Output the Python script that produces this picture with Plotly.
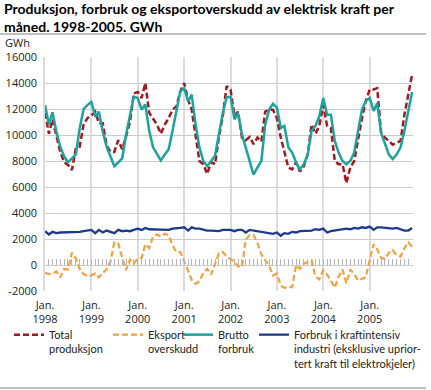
import plotly.graph_objects as go
import pandas as pd

W, H = 431, 390
ML, MR, MT, MB = 45, 18, 57, 99
FONT = "Lato"
TICKFONT = "Open Sans"

months = pd.date_range("1998-01-01", periods=96, freq="MS")
years = list(range(1998, 2006))
x_tick_vals = [f"{y}-01-01" for y in years]
x_tick_text = [f"Jan.<br>{y}" for y in years]
y_tick_vals = list(range(-2000, 16001, 2000))
y_tick_text = [str(v) for v in y_tick_vals]

total_produksjon = [
    11700, 10100, 11200, 9800, 8700, 7900, 7700, 7300, 9000, 9100, 10800, 11300,
    11500, 11800, 10900, 10900, 9200, 8700, 8700, 9600, 8900, 9900, 11000, 13200,
    13300, 12850, 14000, 11700, 11300, 10800, 10100, 10800, 11300, 11950, 12200, 13350,
    14000, 12700, 11950, 9800, 8000, 7750, 7000, 7900, 7750, 9800, 11450, 13750,
    13500, 11450, 11800, 9800, 9600, 9850, 9300, 9800, 9500, 11800, 11950, 11950,
    11300, 9800, 8750, 7500, 7350, 7900, 7200, 7600, 8500, 10800, 10100, 10700,
    12300, 10700, 10550, 8000, 7750, 7750, 6300, 7500, 8000, 9800, 11300, 12600,
    13500, 13500, 13600, 10150, 9800, 9550, 9250, 9400, 9550, 11550, 13250, 14650,
]
eksportoverskudd = [
    -600, -700, -650, -500, -950, -300, -350, 950, 500, -300, -700, -850,
    -800, -650, -950, -600, -350, 300, 1750, 1650, 550, -400, 400, 100,
    500, 550, 1600, 1300, 2200, 2350, 2200, 2400, 2300, 1500, 1000, 1000,
    300, -500, -1150, -1450, -1250, -600, -300, -750, 50, 900, 1000, 650,
    450, 250, -100, -150, 1950, 2300, 2300, 1700, 800, 400, -50, -800,
    -650, -1600, -1750, -1700, -1700, 0, -300, 100, 250, 350, -900, -1100,
    -400, -750, -1200, -1750, -900, -350, -1400, -350, -700, -1200, -1050, -950,
    400, 1600, 1200, 550, 450, 950, 1150, 750, 650, 1300, 1750, 1400,
]
brutto_forbruk = [
    12300, 10800, 11750, 10250, 9100, 8350, 7900, 8200, 8500, 10500, 12000, 12300,
    12550, 11400, 11800, 10250, 9100, 8350, 7600, 7900, 8200, 10000, 11650, 12950,
    12850, 11950, 12350, 10300, 9050, 8500, 8050, 8500, 8900, 10300, 11850, 13350,
    13600, 12600, 13100, 10800, 9050, 8000, 7600, 8000, 8400, 10050, 11700, 12900,
    12950, 11200, 11700, 10050, 9050, 8000, 6950, 7500, 8000, 10800, 11950, 12400,
    12100, 10550, 10700, 9050, 8650, 7900, 7350, 7750, 8500, 10300, 10700, 11450,
    12850, 11550, 11550, 9550, 8650, 8000, 7750, 8000, 8650, 10300, 11950, 12600,
    12850, 11850, 12450, 10150, 9300, 8500, 8150, 8500, 9050, 10300, 11850, 13300,
]
kraftintensiv = [
    2600, 2350, 2550, 2450, 2500, 2500, 2500, 2500, 2550, 2550, 2600, 2650,
    2700, 2450, 2700, 2500, 2650, 2550, 2450, 2700, 2600, 2650, 2600, 2700,
    2800, 2700, 2850, 2750, 2750, 2700, 2700, 2750, 2700, 2800, 2800, 2850,
    2900, 2650, 2900, 2800, 2800, 2700, 2650, 2650, 2650, 2600, 2700, 2700,
    2700, 2600, 2700, 2700, 2500, 2700, 2650, 2600, 2500, 2450, 2450, 2400,
    2500, 2250, 2450, 2400, 2550, 2500, 2600, 2600, 2650, 2650, 2750, 2700,
    2800, 2500, 2600, 2650, 2700, 2700, 2800, 2750, 2850, 2800, 2900, 2850,
    2950, 2700, 2900, 2900, 2850, 2850, 2800, 2850, 2750, 2650, 2650, 2850,
]

series_names = [
    "Total<br>produksjon",
    "Eksport-<br>overskudd",
    "Brutto<br>forbruk",
    "Forbruk i kraftintensiv<br>industri (eksklusive uprior-<br>tert kraft til elektrokjeler)",
]
series_values = [total_produksjon, eksportoverskudd, brutto_forbruk, kraftintensiv]
series_colors = ["#a3191f", "#f5a13f", "#1ca39e", "#1d3a91"]
series_dash = ["6px,3px", "6px,3px", "solid", "solid"]
series_width = [2.5, 2.2, 2.5, 2.3]
series_xaxis = ["x", "x2", "x", "x"]
legend_ids = ["legend", "legend2", "legend3", "legend4"]
legend_text_x = [49, 148, 218, 294]

fig = go.Figure()
for name, vals, col, dash, wd, xa, lg in zip(series_names, series_values, series_colors,
                                              series_dash, series_width, series_xaxis,
                                              legend_ids):
    fig.add_trace(go.Scatter(
        x=months, y=vals, name=name, mode="lines", xaxis=xa, yaxis="y",
        line=dict(color=col, dash=dash, width=wd),
        legend=lg, showlegend=True, hoverinfo="skip",
    ))

pw = W - ML - MR
ph = H - MT - MB


def xp(px):
    return (px - ML) / pw


def yp(py):
    return 1 - (py - MT) / ph


legend_common = dict(
    xref="paper", yref="paper", xanchor="left", yanchor="top",
    valign="top", bgcolor="rgba(0,0,0,0)", borderwidth=0, itemwidth=30,
    font=dict(family=FONT, size=11, color="#222"), visible=True,
)
layout_legends = {}
for lg, tx in zip(legend_ids, legend_text_x):
    layout_legends[lg] = dict(legend_common, x=xp(tx - 40), y=yp(321))

x_range = ["1998-01-01", "2005-12-08"]
y_range = [y_tick_vals[0], y_tick_vals[-1]]

fig.update_layout(
    width=W, height=H,
    margin=dict(l=ML, r=MR, t=MT, b=MB, autoexpand=False),
    paper_bgcolor="white", plot_bgcolor="white",
    showlegend=True,
    font=dict(family=FONT, size=11, color="#222"),
    xaxis=dict(
        type="date", range=x_range,
        tickvals=x_tick_vals, ticktext=x_tick_text,
        showgrid=True, gridcolor="#dcdcdc", gridwidth=1.5,
        ticks="", showline=False, zeroline=False, ticklabelstandoff=6,
        tickfont=dict(family=TICKFONT, size=11, color="#222"),
    ),
    xaxis2=dict(
        type="date", range=x_range, overlaying="x",
        anchor="free", position=(0 - y_range[0]) / (y_range[1] - y_range[0]),
        tickmode="linear", tick0="1998-01-01", dtick="M1",
        ticks="inside", ticklen=6, tickwidth=1, tickcolor="#b4b4b4",
        showticklabels=False, showgrid=False, showline=False, zeroline=False,
    ),
    yaxis=dict(
        range=y_range,
        tickvals=y_tick_vals, ticktext=y_tick_text,
        showgrid=True, gridcolor="#cccccc", gridwidth=1,
        zeroline=False, showline=True, linecolor="#dcdcdc", linewidth=1.5,
        ticks="", ticklabelstandoff=4,
        tickfont=dict(family=TICKFONT, size=11, color="#222"),
    ),
    annotations=[
        dict(
            text="<b>Produksjon, forbruk og eksportoverskudd av elektrisk kraft per<br>måned. 1998-2005. GWh</b>",
            x=xp(2), y=yp(-2), xref="paper", yref="paper",
            xanchor="left", yanchor="top", align="left", showarrow=False,
            font=dict(family=FONT, size=14, color="#000"),
        ),
        dict(
            text="GWh", x=xp(3), y=yp(42), xref="paper", yref="paper",
            xanchor="left", yanchor="middle", showarrow=False,
            font=dict(family=TICKFONT, size=11, color="#222"),
        ),
    ],
    shapes=[
        dict(type="line", xref="paper", yref="paper", x0=xp(0), x1=xp(426),
             y0=yp(34), y1=yp(34), line=dict(color="#808080", width=1.2)),
        dict(type="line", xref="paper", yref="paper", x0=xp(0), x1=xp(426),
             y0=yp(388), y1=yp(388), line=dict(color="#808080", width=1.2)),
    ],
    **layout_legends,
)

fig.write_html(
    "out.html",
    config={"displayModeBar": False},
    post_script="document.body.style.margin='0px';",
)
